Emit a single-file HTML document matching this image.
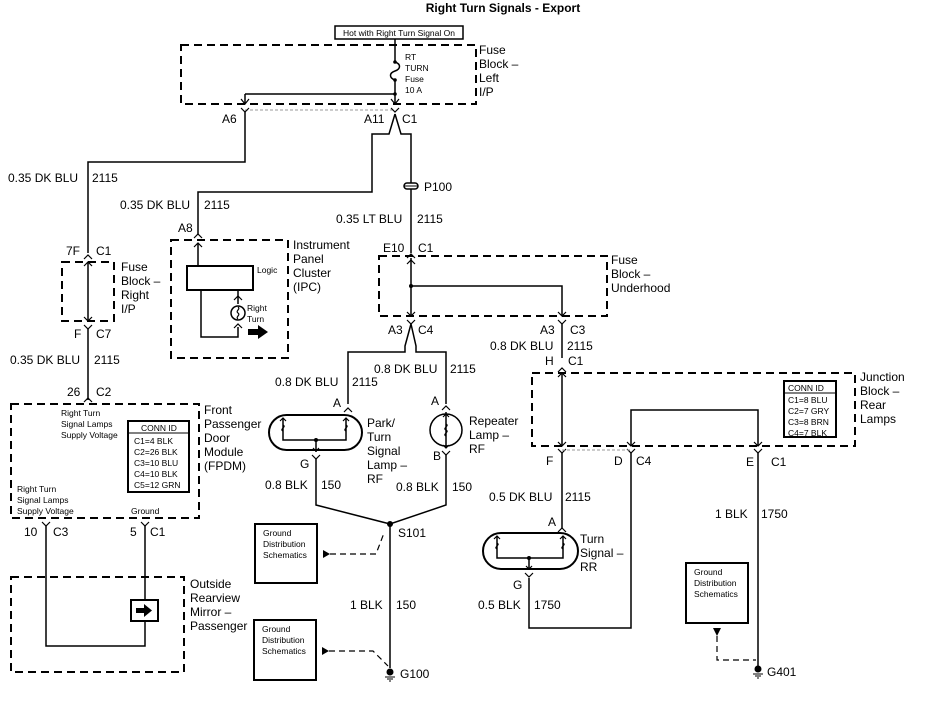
<!DOCTYPE html>
<html><head><style>
html,body{margin:0;padding:0;background:#fff;}
svg{display:block;font-family:"Liberation Sans",Arial,sans-serif;}
text{fill:#000;}
.t{font-size:12px;}
.s{font-size:8.5px;}
.w{stroke:#000;stroke-width:1.5;fill:none;}
.d{stroke:#000;stroke-width:2;fill:none;stroke-dasharray:8,5;}
.g{stroke:#999;stroke-width:1;fill:none;stroke-dasharray:3,2;}
.a{stroke:#000;stroke-width:1.2;fill:none;}
</style></head><body>
<svg width="927" height="710" viewBox="0 0 927 710">
<text x="503" y="12" font-size="12" font-weight="bold" text-anchor="middle">Right Turn Signals - Export</text>
<rect x="335" y="26" width="128" height="13" fill="none" stroke="#000" stroke-width="1.5"/>
<text x="399" y="36" class="s" text-anchor="middle">Hot with Right Turn Signal On</text>

<!-- Fuse block left -->
<rect x="181" y="45" width="295" height="59" class="d"/>
<text class="t" x="479" y="54">Fuse</text><text class="t" x="479" y="68">Block –</text><text class="t" x="479" y="82">Left</text><text class="t" x="479" y="96">I/P</text>
<path class="w" d="M395 39V62 M395 80V104 M245 94H395 M245 94V104"/>
<path class="w" d="M395 62c6 2 6 7 0 9c-6 2-6 7 0 9"/>
<circle cx="395" cy="62" r="1.8"/><circle cx="395" cy="80" r="1.8"/><circle cx="395" cy="94" r="1.8"/>
<text class="s" x="405" y="60">RT</text><text class="s" x="405" y="71">TURN</text><text class="s" x="405" y="82">Fuse</text><text class="s" x="405" y="93">10 A</text>
<path class="a" d="M241 99l4 5 4-5 M391 99l4 5 4-5"/>
<path class="g" d="M245 110H395"/>
<path class="a" d="M241 108l4 4 4-4 M391 108l4 4 4-4"/>
<text class="t" x="222" y="123">A6</text><text class="t" x="364" y="123">A11</text><text class="t" x="402" y="123">C1</text>
<path class="w" d="M245 112V162H88V253"/>
<path class="w" d="M395 114L389 134H372V192H198V235"/>
<path class="w" d="M395 114L401 134H411V253"/>
<rect x="404" y="183" width="14" height="6" rx="3" fill="#fff" stroke="#000" stroke-width="1.5"/>
<path d="M404 186H418" stroke="#000" stroke-width="1"/>
<text class="t" x="424" y="191">P100</text>
<text class="t" x="8" y="182">0.35 DK BLU</text><text class="t" x="92" y="182">2115</text>
<text class="t" x="120" y="209">0.35 DK BLU</text><text class="t" x="204" y="209">2115</text>
<text class="t" x="336" y="223">0.35 LT BLU</text><text class="t" x="417" y="223">2115</text>

<!-- IPC -->
<text class="t" x="178" y="232">A8</text>
<path class="a" d="M194 238l4-4 4 4"/>
<rect x="171" y="240" width="117" height="118" class="d"/>
<text class="t" x="293" y="249">Instrument</text><text class="t" x="293" y="263">Panel</text><text class="t" x="293" y="277">Cluster</text><text class="t" x="293" y="291">(IPC)</text>
<rect x="187" y="266" width="66" height="24" fill="none" stroke="#000" stroke-width="2"/>
<text class="s" x="257" y="273">Logic</text>
<path class="w" d="M198 266V243 M201 290V337H238V327 M238 290V304"/>
<path class="a" d="M194 247l4-4 4 4 M234 300l4-4 4 4 M234 328l4-4 4 4"/>
<circle cx="238" cy="313" r="7" class="w"/>
<path class="a" d="M238 307c3 2-3 4 0 6c3 2-3 4 0 6"/>
<text class="s" x="247" y="311">Right</text><text class="s" x="247" y="322">Turn</text>
<path d="M248 329h10v-4l10 7-10 7v-4h-10z" fill="#000"/>

<!-- Fuse block right -->
<text class="t" x="66" y="255">7F</text><text class="t" x="96" y="255">C1</text>
<path class="a" d="M84 259l4-4 4 4"/>
<rect x="62" y="262" width="52" height="59" class="d"/>
<text class="t" x="121" y="271">Fuse</text><text class="t" x="121" y="285">Block –</text><text class="t" x="121" y="299">Right</text><text class="t" x="121" y="313">I/P</text>
<path class="w" d="M88 262V321"/>
<path class="a" d="M84 266l4-4 4 4 M84 317l4 4 4-4 M84 325l4 4 4-4"/>
<text class="t" x="74" y="338">F</text><text class="t" x="96" y="338">C7</text>
<path class="w" d="M88 329V400"/>
<text class="t" x="10" y="364">0.35 DK BLU</text><text class="t" x="94" y="364">2115</text>
<text class="t" x="67" y="396">26</text><text class="t" x="96" y="396">C2</text>
<path class="a" d="M84 402l4-4 4 4"/>

<!-- FPDM -->
<rect x="11" y="404" width="188" height="114" class="d"/>
<text class="s" x="61" y="416">Right Turn</text><text class="s" x="61" y="427">Signal Lamps</text><text class="s" x="61" y="438">Supply Voltage</text>
<rect x="128" y="421" width="61" height="71" fill="none" stroke="#000" stroke-width="2"/>
<path d="M128 433H189" stroke="#000" stroke-width="1"/>
<text class="s" x="141" y="431">CONN ID</text>
<text class="s" x="134" y="444">C1=4 BLK</text><text class="s" x="134" y="455">C2=26 BLK</text><text class="s" x="134" y="466">C3=10 BLU</text><text class="s" x="134" y="477">C4=10 BLK</text><text class="s" x="134" y="488">C5=12 GRN</text>
<text class="t" x="204" y="414">Front</text><text class="t" x="204" y="428">Passenger</text><text class="t" x="204" y="442">Door</text><text class="t" x="204" y="456">Module</text><text class="t" x="204" y="470">(FPDM)</text>
<text class="s" x="17" y="492">Right Turn</text><text class="s" x="17" y="503">Signal Lamps</text><text class="s" x="17" y="514">Supply Voltage</text>
<text class="s" x="131" y="514">Ground</text>
<text class="t" x="24" y="536">10</text><text class="t" x="53" y="536">C3</text>
<text class="t" x="130" y="536">5</text><text class="t" x="150" y="536">C1</text>
<path class="a" d="M42 522l4 4 4-4 M141 522l4 4 4-4"/>
<path class="w" d="M46 526V646H145V621 M145 526V600"/>
<rect x="11" y="577" width="173" height="95" class="d"/>
<rect x="131" y="600" width="27" height="21" fill="#fff" stroke="#000" stroke-width="2"/>
<path d="M136 608h8v-4l8 6.5-8 6.5v-4h-8z" fill="#000"/>
<text class="t" x="190" y="588">Outside</text><text class="t" x="190" y="602">Rearview</text><text class="t" x="190" y="616">Mirror –</text><text class="t" x="190" y="630">Passenger</text>

<!-- Underhood fuse block -->
<text class="t" x="383" y="252">E10</text><text class="t" x="418" y="252">C1</text>
<path class="a" d="M407 258l4-4 4 4"/>
<rect x="379" y="256" width="228" height="60" class="d"/>
<text class="t" x="611" y="264">Fuse</text><text class="t" x="611" y="278">Block –</text><text class="t" x="611" y="292">Underhood</text>
<path class="w" d="M411 258V316 M411 286H562V316"/>
<circle cx="411" cy="286" r="2"/>
<path class="a" d="M407 264l4-4 4 4 M407 312l4 4 4-4 M558 312l4 4 4-4 M407 320l4 4 4-4 M558 320l4 4 4-4"/>
<text class="t" x="388" y="334">A3</text><text class="t" x="418" y="334">C4</text>
<text class="t" x="540" y="334">A3</text><text class="t" x="570" y="334">C3</text>
<path class="w" d="M411 324L405 346V352H348V404 M411 324L416 346V352H446V404"/>
<path class="w" d="M562 324V358"/>
<text class="t" x="490" y="350">0.8 DK BLU</text><text class="t" x="567" y="350">2115</text>
<text class="t" x="545" y="365">H</text><text class="t" x="568" y="365">C1</text>
<path class="a" d="M558 372l4-4 4 4"/>
<text class="t" x="374" y="373">0.8 DK BLU</text><text class="t" x="450" y="373">2115</text>
<text class="t" x="275" y="386">0.8 DK BLU</text><text class="t" x="352" y="386">2115</text>

<!-- Park/turn lamp -->
<text class="t" x="333" y="407">A</text><text class="t" x="431" y="405">A</text>
<path class="a" d="M344 412l4-4 4 4 M442 410l4-4 4 4"/>
<rect x="269" y="415" width="93" height="35" rx="17.5" fill="none" stroke="#000" stroke-width="2"/>
<path class="w" d="M283 418V440H346V418 M316 440V452"/>
<circle cx="316" cy="440" r="2"/>
<path class="a" d="M280 421l3-3 3 3 M343 421l3-3 3 3 M313 448l3 3 3-3 M283 425c4 2-4 4 0 6 M346 425c4 2-4 4 0 6"/>
<text class="t" x="367" y="427">Park/</text><text class="t" x="367" y="441">Turn</text><text class="t" x="367" y="455">Signal</text><text class="t" x="367" y="469">Lamp –</text><text class="t" x="367" y="483">RF</text>
<path class="a" d="M312 455l4 4 4-4"/>
<text class="t" x="300" y="468">G</text>
<circle cx="446" cy="430" r="16" class="w"/>
<path class="w" d="M446 412V448"/>
<path class="a" d="M443 417l3-3 3 3 M443 445l3 3 3-3 M446 424c4 2-4 4 0 6c4 2-4 4 0 6"/>
<path class="a" d="M442 451l4 4 4-4"/>
<text class="t" x="433" y="460">B</text>
<text class="t" x="469" y="425">Repeater</text><text class="t" x="469" y="439">Lamp –</text><text class="t" x="469" y="453">RF</text>
<path class="w" d="M316 459V505L390 524L446 505V455"/>
<text class="t" x="265" y="489">0.8 BLK</text><text class="t" x="321" y="489">150</text>
<text class="t" x="396" y="491">0.8 BLK</text><text class="t" x="452" y="491">150</text>
<circle cx="390" cy="524" r="3"/>
<text class="t" x="398" y="537">S101</text>
<path class="w" d="M390 524V668"/>
<text class="t" x="350" y="609">1 BLK</text><text class="t" x="396" y="609">150</text>
<circle cx="390" cy="672" r="3.5"/>
<path d="M385 677H395 M387 679H393 M389 681H391" stroke="#000" stroke-width="1"/>
<text class="t" x="400" y="678">G100</text>
<rect x="255" y="524" width="62" height="59" fill="none" stroke="#000" stroke-width="2"/>
<text class="s" x="263" y="536">Ground</text><text class="s" x="263" y="547">Distribution</text><text class="s" x="263" y="558">Schematics</text>
<path d="M323 554V550L330 554L323 558Z" fill="#000"/>
<path class="a" stroke-dasharray="6,4" d="M330 554H376L384 533"/>
<rect x="254" y="620" width="62" height="60" fill="none" stroke="#000" stroke-width="2"/>
<text class="s" x="262" y="632">Ground</text><text class="s" x="262" y="643">Distribution</text><text class="s" x="262" y="654">Schematics</text>
<path d="M322 651V647L329 651L322 655Z" fill="#000"/>
<path class="a" stroke-dasharray="6,4" d="M329 651H373L388 666"/>

<!-- Junction block -->
<rect x="532" y="373" width="323" height="73" class="d"/>
<text class="t" x="860" y="381">Junction</text><text class="t" x="860" y="395">Block –</text><text class="t" x="860" y="409">Rear</text><text class="t" x="860" y="423">Lamps</text>
<rect x="784" y="381" width="52" height="56" fill="none" stroke="#000" stroke-width="2"/>
<path d="M784 393H836" stroke="#000" stroke-width="1"/>
<text class="s" x="788" y="391">CONN ID</text>
<text class="s" x="788" y="403">C1=8 BLU</text><text class="s" x="788" y="414">C2=7 GRY</text><text class="s" x="788" y="425">C3=8 BRN</text><text class="s" x="788" y="436">C4=7 BLK</text>
<path class="w" d="M562 373V446 M631 446V410H758V446"/>
<path class="a" d="M558 377l4-4 4 4 M558 442l4 4 4-4 M627 442l4 4 4-4 M754 442l4 4 4-4 M558 449l4 4 4-4 M627 449l4 4 4-4 M754 449l4 4 4-4"/>
<path class="g" d="M562 450H631"/>
<text class="t" x="546" y="465">F</text><text class="t" x="614" y="465">D</text><text class="t" x="636" y="465">C4</text>
<text class="t" x="746" y="466">E</text><text class="t" x="771" y="466">C1</text>
<path class="w" d="M562 453V528 M631 453V628H529V578 M758 453V668"/>
<text class="t" x="489" y="501">0.5 DK BLU</text><text class="t" x="565" y="501">2115</text>
<text class="t" x="548" y="526">A</text>
<path class="a" d="M558 532l4-4 4 4"/>
<rect x="483" y="533" width="95" height="36" rx="18" fill="none" stroke="#000" stroke-width="2"/>
<path class="w" d="M497 536V558H563V536 M529 558V570"/>
<circle cx="529" cy="558" r="2"/>
<path class="a" d="M494 539l3-3 3 3 M560 539l3-3 3 3 M526 566l3 3 3-3 M497 543c4 2-4 4 0 6 M563 543c4 2-4 4 0 6 M525 573l4 4 4-4"/>
<text class="t" x="580" y="543">Turn</text><text class="t" x="580" y="557">Signal –</text><text class="t" x="580" y="571">RR</text>
<text class="t" x="513" y="589">G</text>
<text class="t" x="478" y="609">0.5 BLK</text><text class="t" x="534" y="609">1750</text>
<text class="t" x="715" y="518">1 BLK</text><text class="t" x="761" y="518">1750</text>
<rect x="686" y="563" width="62" height="60" fill="none" stroke="#000" stroke-width="2"/>
<text class="s" x="694" y="575">Ground</text><text class="s" x="694" y="586">Distribution</text><text class="s" x="694" y="597">Schematics</text>
<path d="M713 628H721L717 636Z" fill="#000"/>
<path class="a" stroke-dasharray="6,4" d="M717 636V660H756"/>
<circle cx="758" cy="669" r="3.5"/>
<path d="M753 674H763 M755 676H761 M757 678H759" stroke="#000" stroke-width="1"/>
<text class="t" x="767" y="676">G401</text>
</svg>
</body></html>
